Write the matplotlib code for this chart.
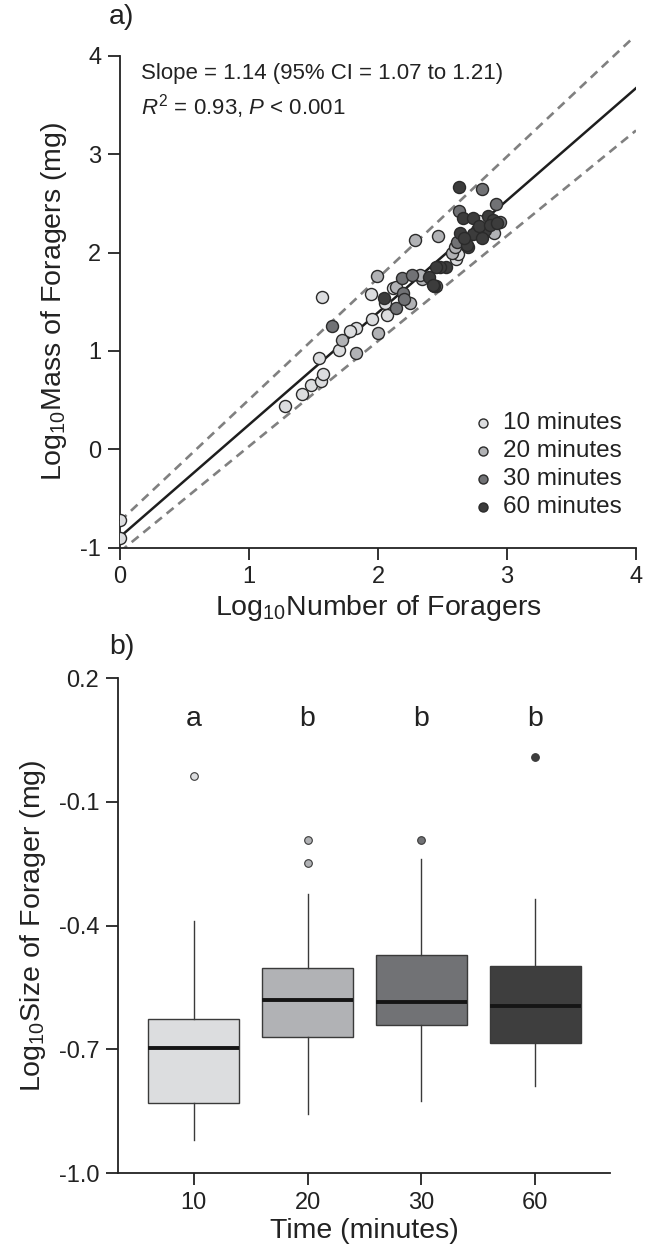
import matplotlib
matplotlib.use("Agg")
import matplotlib.pyplot as plt
import numpy as np

plt.rcParams['font.family'] = ['Liberation Sans', 'DejaVu Sans']
plt.rcParams['mathtext.fontset'] = 'custom'
plt.rcParams['mathtext.rm'] = 'Liberation Sans'
plt.rcParams['mathtext.it'] = 'Liberation Sans:italic'
plt.rcParams['mathtext.default'] = 'regular'

# ---------------- data: panel a ----------------
groups = ['10 minutes', '20 minutes', '30 minutes', '60 minutes']
group_colors = ['#dcdddf', '#b1b2b5', '#717275', '#3c3c3c']

x10 = [0.0, 0.0, 1.277, 1.408, 1.478, 1.560, 1.571, 1.540, 1.700, 1.563, 1.943, 2.067,
       1.951, 2.119, 2.605, 2.785, 2.881, 1.829, 2.054, 1.78, 2.62]
y10 = [-0.72, -0.90, 0.440, 0.562, 0.653, 0.694, 0.762, 0.925, 1.009, 1.545, 1.578, 1.365,
       1.321, 1.636, 1.931, 2.323, 2.222, 1.230, 1.484, 1.20, 1.98]

x20 = [1.718, 1.990, 2.140, 2.248, 2.287, 2.468, 2.571, 2.339, 2.326, 1.83, 2.00, 2.66,
       2.85, 2.90, 2.60]
y20 = [1.111, 1.764, 1.652, 1.483, 2.127, 2.171, 1.992, 1.728, 1.771, 0.98, 1.18, 2.10,
       2.25, 2.20, 2.06]

x30 = [1.646, 2.184, 2.261, 2.196, 2.140, 2.630, 2.809, 2.912, 2.946, 2.610, 2.20, 2.45]
y30 = [1.256, 1.738, 1.771, 1.585, 1.433, 2.425, 2.642, 2.490, 2.307, 2.110, 1.53, 1.66]

x60 = [2.049, 2.628, 2.662, 2.734, 2.855, 2.894, 2.829, 2.764, 2.636, 2.734, 2.804, 2.700,
       2.687, 2.525, 2.481, 2.450, 2.398, 2.434, 2.429, 2.67, 2.78, 2.87, 2.92]
y60 = [1.534, 2.669, 2.354, 2.354, 2.371, 2.330, 2.229, 2.229, 2.195, 2.188, 2.144, 2.053,
       2.076, 1.856, 1.856, 1.849, 1.748, 1.660, 1.670, 2.15, 2.27, 2.28, 2.30]

fit_intercept, fit_slope = -0.89, 1.14
upper_intercept, upper_slope = -0.73, 1.235
lower_intercept, lower_slope = -1.04, 1.07

# ---------------- data: panel b ----------------
time_labels = ['10', '20', '30', '60']
box_colors = ['#dcdddf', '#b1b2b5', '#717275', '#3e3e3e']
q1 = [-0.831, -0.671, -0.642, -0.686]
med = [-0.698, -0.581, -0.586, -0.594]
q3 = [-0.626, -0.503, -0.472, -0.498]
whislo = [-0.921, -0.858, -0.826, -0.790]
whishi = [-0.390, -0.323, -0.238, -0.335]
fliers = [[-0.038], [-0.193, -0.248], [-0.193], [0.009]]
letters = ['a', 'b', 'b', 'b']
letter_y = 0.10

# ---------------- figure ----------------
fig = plt.figure(figsize=(6.48, 12.49), dpi=100)
W, H = 648.0, 1249.0

ax1 = fig.add_axes([120 / W, 1 - 547.7 / H, 516 / W, 492 / H])
ax2 = fig.add_axes([118 / W, 1 - 1173 / H, 492 / W, 495 / H])

for ax in (ax1, ax2):
    ax.spines['top'].set_visible(False)
    ax.spines['right'].set_visible(False)
    for s in ('left', 'bottom'):
        ax.spines[s].set_linewidth(1.3)
        ax.spines[s].set_color('#222222')
    ax.tick_params(direction='out', length=8.5, width=1.3, color='#222222',
                   labelsize=17, labelcolor='#222222', pad=5)

# panel a
dash = (0, (3.4, 2.3))
xs_up = np.array([0, 3.98])
ax1.plot(xs_up, upper_intercept + upper_slope * xs_up, ls=dash, color='#808080',
         lw=1.9, clip_on=False, zorder=2)
xs_lo = np.array([0, 4])
ax1.plot(xs_lo, lower_intercept + lower_slope * xs_lo, ls=dash, color='#808080',
         lw=1.9, zorder=2)
ax1.plot([0, 4], [fit_intercept, fit_intercept + fit_slope * 4], color='#1e1e1e', lw=1.8, zorder=3)

for xs, ys, c, lab in zip([x10, x20, x30, x60], [y10, y20, y30, y60], group_colors, groups):
    ax1.scatter(xs, ys, s=75, c=c, edgecolors='#2a2a2a', linewidths=1.0, zorder=4, label=lab)

ax1.set_xlim(0, 4)
ax1.set_ylim(-1, 4)
ax1.set_xticks([0, 1, 2, 3, 4])
ax1.set_yticks([-1, 0, 1, 2, 3, 4])
ax1.set_yticklabels(['-1', '0', '1', '2', '3', '4'])
ax1.set_xlabel('Log$_{10}$Number of Foragers', fontsize=20.5, color='#222222', labelpad=3)
ax1.set_ylabel('Log$_{10}$Mass of Foragers (mg)', fontsize=20.5, color='#222222', labelpad=8)

ax1.text(0.04, 0.963, 'Slope = 1.14 (95% CI = 1.07 to 1.21)', transform=ax1.transAxes,
         fontsize=16, color='#222222', va='center', ha='left')
ax1.text(0.04, 0.897, '$\\mathit{R}^2$ = 0.93, $\\mathit{P}$ < 0.001', transform=ax1.transAxes,
         fontsize=16, color='#222222', va='center', ha='left')

leg = ax1.legend(loc='lower right', bbox_to_anchor=(1.0, 0.03), frameon=False, fontsize=17.5,
                 handletextpad=0.2, labelspacing=0.25, markerscale=0.75, borderaxespad=0.2,
                 handlelength=1.2, labelcolor='#222222')

fig.text(109 / W, 1 - 17 / H, 'a)', fontsize=20.5, color='#222222', va='center', ha='left')

# panel b
positions = [1, 2, 3, 4]
stats = []
for i in range(4):
    stats.append(dict(med=med[i], q1=q1[i], q3=q3[i], whislo=whislo[i], whishi=whishi[i],
                      fliers=fliers[i], label=time_labels[i]))
bp = ax2.bxp(stats, positions=positions, widths=0.8, patch_artist=True, showcaps=False,
             boxprops=dict(edgecolor='#3a3a3a', linewidth=1.0),
             medianprops=dict(color='#151515', linewidth=2.8),
             whiskerprops=dict(color='#3a3a3a', linewidth=1.0),
             flierprops=dict(marker='o', markersize=5.5, markeredgecolor='#3a3a3a',
                             markeredgewidth=0.8))
for patch, c in zip(bp['boxes'], box_colors):
    patch.set_facecolor(c)
for fl, c in zip(bp['fliers'], box_colors):
    fl.set_markerfacecolor(c)

for p, l in zip(positions, letters):
    ax2.text(p, letter_y, l, fontsize=20.5, color='#222222', ha='center', va='center')

ax2.set_xlim(0.334, 4.657)
ax2.set_ylim(-1.0, 0.2)
ax2.set_yticks([0.2, -0.1, -0.4, -0.7, -1.0])
ax2.set_yticklabels(['0.2', '-0.1', '-0.4', '-0.7', '-1.0'])
ax2.set_xticks(positions)
ax2.set_xticklabels(time_labels)
ax2.set_xlabel('Time (minutes)', fontsize=20.5, color='#222222', labelpad=3)
ax2.set_ylabel('Log$_{10}$Size of Forager (mg)', fontsize=20.5, color='#222222', labelpad=8)

fig.text(109 / W, 1 - 646.7 / H, 'b)', fontsize=20.5, color='#222222', va='center', ha='left')

fig.savefig('out.png', dpi=100)
